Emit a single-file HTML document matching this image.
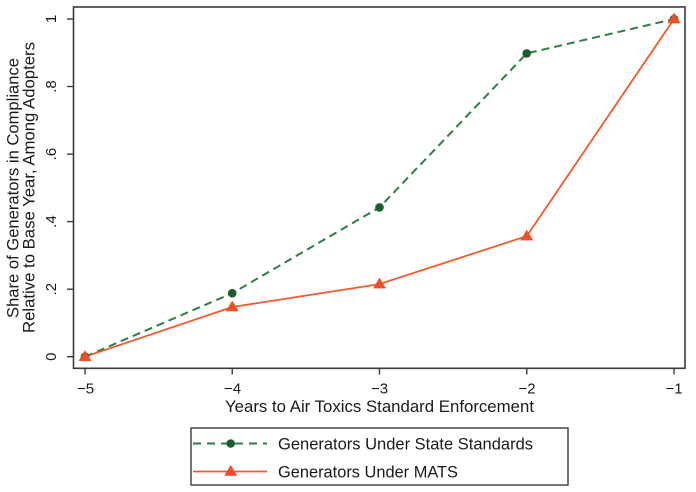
<!DOCTYPE html>
<html>
<head>
<meta charset="utf-8">
<style>
  html, body { margin: 0; padding: 0; background: #ffffff; }
  svg { display: block; }
  text { font-family: "Liberation Sans", "DejaVu Sans", sans-serif; fill: #1a1a1a; }
</style>
</head>
<body>
<svg width="696" height="492" viewBox="0 0 696 492" xmlns="http://www.w3.org/2000/svg">
  <rect x="0" y="0" width="696" height="492" fill="#ffffff"/>

  <!-- plot box -->
  <rect x="73.5" y="7" width="611.5" height="361.3" fill="none" stroke="#3a3a3a" stroke-width="1.6"/>

  <!-- x ticks -->
  <g stroke="#3a3a3a" stroke-width="1.4">
    <line x1="85" y1="368" x2="85" y2="374.5"/>
    <line x1="232.25" y1="368" x2="232.25" y2="374.5"/>
    <line x1="379.5" y1="368" x2="379.5" y2="374.5"/>
    <line x1="526.75" y1="368" x2="526.75" y2="374.5"/>
    <line x1="674" y1="368" x2="674" y2="374.5"/>
  </g>
  <!-- y ticks -->
  <g stroke="#3a3a3a" stroke-width="1.4">
    <line x1="67" y1="356.7" x2="73.5" y2="356.7"/>
    <line x1="67" y1="289.2" x2="73.5" y2="289.2"/>
    <line x1="67" y1="221.6" x2="73.5" y2="221.6"/>
    <line x1="67" y1="154.1" x2="73.5" y2="154.1"/>
    <line x1="67" y1="86.5" x2="73.5" y2="86.5"/>
    <line x1="67" y1="19" x2="73.5" y2="19"/>
  </g>

  <!-- x tick labels -->
  <g font-size="15" text-anchor="middle">
    <text x="85.5" y="393.5">−5</text>
    <text x="232.5" y="393.5">−4</text>
    <text x="379.5" y="393.5">−3</text>
    <text x="527" y="393.5">−2</text>
    <text x="674" y="393.5">−1</text>
  </g>

  <!-- y tick labels (rotated) -->
  <g font-size="15" text-anchor="middle">
    <text transform="translate(56,356.7) rotate(-90)">0</text>
    <text transform="translate(56,289.2) rotate(-90)">.2</text>
    <text transform="translate(56,221.6) rotate(-90)">.4</text>
    <text transform="translate(56,154.1) rotate(-90)">.6</text>
    <text transform="translate(56,86.5) rotate(-90)">.8</text>
    <text transform="translate(56,19) rotate(-90)">1</text>
  </g>

  <!-- axis titles -->
  <text x="225" y="412" font-size="17" textLength="309" lengthAdjust="spacingAndGlyphs">Years to Air Toxics Standard Enforcement</text>
  <text transform="translate(18.5,318) rotate(-90)" font-size="17" textLength="260" lengthAdjust="spacingAndGlyphs">Share of Generators in Compliance</text>
  <text transform="translate(34.5,333) rotate(-90)" font-size="17" textLength="291" lengthAdjust="spacingAndGlyphs">Relative to Base Year, Among Adopters</text>

  <!-- green dashed series -->
  <polyline points="85,356.7 232.25,293.2 379.5,207.4 526.75,53.4 674,19" fill="none" stroke="#2e7d48" stroke-width="2" stroke-dasharray="8,5"/>
  <!-- orange solid series -->
  <polyline points="85,356.7 232.25,307 379.5,284.1 526.75,236.1 674,19" fill="none" stroke="#f4592c" stroke-width="1.8"/>

  <!-- green markers -->
  <g fill="#1b5e2e">
    <circle cx="85" cy="356.7" r="4.3"/>
    <circle cx="232.25" cy="293.2" r="4.3"/>
    <circle cx="379.5" cy="207.4" r="4.3"/>
    <circle cx="526.75" cy="53.4" r="4.3"/>
    <circle cx="674" cy="19" r="4.3"/>
  </g>
  <!-- orange markers (triangles) -->
  <g fill="#f04e23">
    <polygon points="85,350.2 91.5,361 78.5,361"/>
    <polygon points="232.25,300.5 238.75,311.3 225.75,311.3"/>
    <polygon points="379.5,277.6 386,288.4 373,288.4"/>
    <polygon points="526.75,229.6 533.25,240.4 520.25,240.4"/>
    <polygon points="674,12.5 680.5,23.3 667.5,23.3"/>
  </g>

  <!-- legend -->
  <rect x="191" y="428" width="377" height="57" fill="#ffffff" stroke="#3a3a3a" stroke-width="1.4"/>
  <line x1="193" y1="443.5" x2="267" y2="443.5" stroke="#2e7d48" stroke-width="2" stroke-dasharray="8,6"/>
  <circle cx="230.7" cy="443.5" r="4.3" fill="#1b5e2e"/>
  <text x="278" y="449.5" font-size="17" textLength="255" lengthAdjust="spacingAndGlyphs">Generators Under State Standards</text>

  <line x1="193" y1="471.5" x2="267" y2="471.5" stroke="#f4592c" stroke-width="1.8"/>
  <polygon points="230.7,465 237.2,475.8 224.2,475.8" fill="#f04e23"/>
  <text x="278" y="477.5" font-size="17" textLength="180" lengthAdjust="spacingAndGlyphs">Generators Under MATS</text>
</svg>
</body>
</html>
